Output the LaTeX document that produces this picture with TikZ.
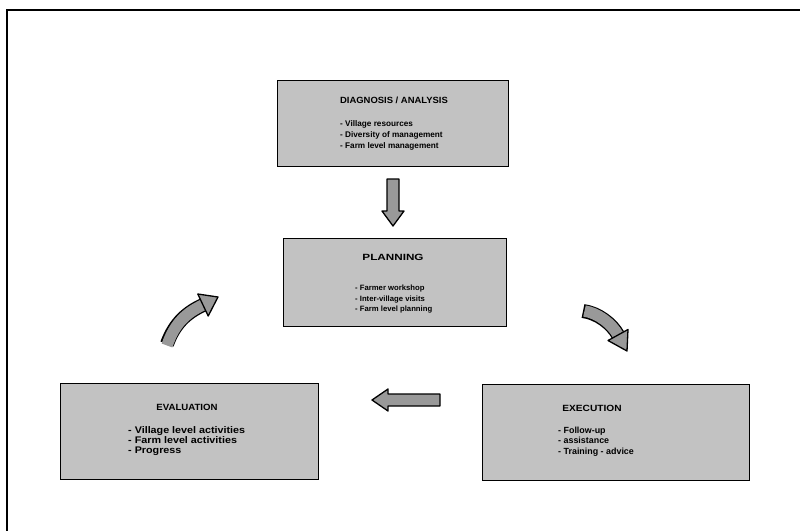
\documentclass[tikz,border=0pt]{standalone}
\usepackage{fontspec}
\setmainfont{Liberation Sans}
\begin{document}
\begin{tikzpicture}[x=1pt,y=-1pt,
  stagebox/.style={draw=black,line width=0.9pt,fill=black!24,inner sep=0pt,anchor=north west},
  titletext/.style={font=\bfseries\fontsize{9}{10}\selectfont,inner sep=0pt},
  itemtext/.style={inner sep=0pt,align=left,anchor=north west},
  blockarrow/.style={draw=black,line width=1.3pt,fill=black!40,line join=round},
  shaftouter/.style={draw=black,line width=14pt},
  shaftinner/.style={draw=black!40,line width=11.4pt}]
\useasboundingbox (0,0) rectangle (800,530);
% outer frame
\draw[line width=2pt] (7,540) -- (7,10) -- (810,10);

% stage boxes
\node[stagebox,minimum width=231,minimum height=86] (diag) at (277,80) {};
\node[stagebox,minimum width=223,minimum height=88] (plan) at (283,238) {};
\node[stagebox,minimum width=258,minimum height=96] (eval) at (60,383) {};
\node[stagebox,minimum width=267,minimum height=96] (exec) at (482,384) {};

% texts
\node[titletext,xscale=1.05] (diagt) at (394,100) {DIAGNOSIS / ANALYSIS};
\node[itemtext,font=\bfseries\fontsize{8.2}{11}\selectfont] (diagi) at (340,120) {- Village resources\\- Diversity of management\\- Farm level management};
\node[titletext,xscale=1.3] (plant) at (393,257) {PLANNING};
\node[itemtext,font=\bfseries\fontsize{7.7}{10.6}\selectfont] (plani) at (355,285) {- Farmer workshop\\- Inter-village visits\\- Farm level planning};
\node[titletext,xscale=1.07] (evalt) at (187,407) {EVALUATION};
\node[itemtext,font=\bfseries\fontsize{9.6}{10.2}\selectfont,xscale=1.12] (evali) at (128,426) {- Village level activities\\- Farm level activities\\- Progress};
\node[titletext,xscale=1.13] (exect) at (592,408) {EXECUTION};
\node[itemtext,font=\bfseries\fontsize{8.9}{10.2}\selectfont] (execi) at (558,427) {- Follow-up\\- assistance\\- Training - advice};

% straight block arrows
\draw[blockarrow] (387,179) -- (399,179) -- (399,211) -- (404,211) -- (393,226) -- (382,211) -- (387,211) -- cycle;
\draw[blockarrow] (440,394) -- (440,406) -- (388,406) -- (388,411) -- (372,400) -- (388,389) -- (388,394) -- cycle;

% curved arrow left (evaluation -> planning)
\coordinate (la) at (167,344);
\coordinate (lb) at (203,305);
\draw[shaftouter] (la) .. controls (175,322) and (188,312) .. (lb);
\draw[shaftinner] ([yshift=-1.5]la) .. controls (175,322) and (188,312) .. (lb);
\draw[blockarrow] (208.2,316) -- (197.8,294) -- (218,297) -- cycle;

% curved arrow right (planning -> execution)
\coordinate (ra) at (583,311);
\coordinate (rb) at (618,335);
\draw[shaftouter] (ra) .. controls (598,313) and (612,324) .. (rb);
\draw[shaftinner] ([xshift=1.5]ra) .. controls (598,313) and (612,324) .. (rb);
\draw[blockarrow] (628,329.5) -- (608,340.5) -- (627,351) -- cycle;
\end{tikzpicture}
\end{document}
